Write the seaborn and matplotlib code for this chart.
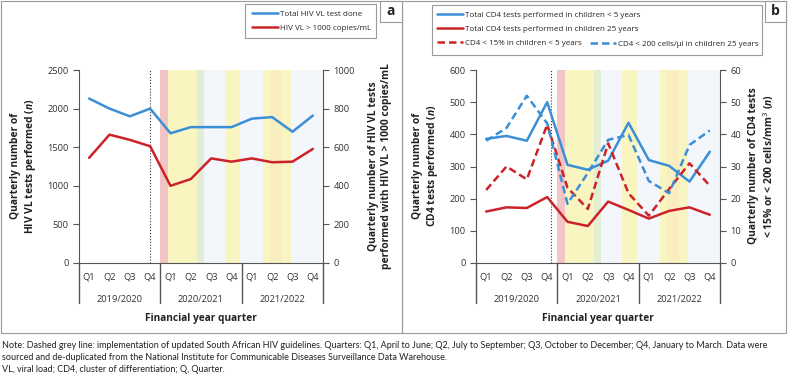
import pandas as pd
import seaborn as sns
import matplotlib.pyplot as plt
import matplotlib.transforms as mtransforms
from matplotlib.patches import Rectangle
from matplotlib.lines import Line2D

# Data
quarters = ['Q1', 'Q2', 'Q3', 'Q4'] * 3
years = ['2019/2020', '2020/2021', '2021/2022']

vl_total = [2130, 2000, 1900, 2000, 1680, 1760, 1760, 1760, 1870, 1890, 1700, 1910]
vl_high = [545, 665, 638, 605, 400, 435, 542, 525, 542, 522, 525, 591]

cd4_u5 = [386, 395, 380, 500, 305, 290, 318, 436, 320, 302, 253, 346]
cd4_25 = [160, 173, 171, 205, 128, 115, 191, 165, 138, 162, 173, 150]
cd4_u5_low = [22.7, 30, 26, 43, 23.4, 16.8, 37.2, 21.7, 14.7, 23, 31, 24]
cd4_25_low = [38, 42, 52, 43.4, 18.4, 28, 38.3, 39.8, 25.5, 21.7, 36.7, 41.2]

# background periods (quarter index units)
periods = [(3.48, 3.86, '#f2c4c4'), (3.86, 5.29, '#f8f5c1'), (5.29, 5.64, '#e3edd3'),
           (5.64, 11.5, '#f3f6fb'), (6.7, 7.42, '#f8f5c1'), (8.54, 9.92, '#f8f5c1'),
           (8.9, 9.5, '#f9eec0')]

BLUE = '#3a8fd6'
RED = '#cc2229'
GREY = '#555555'
W, H = 788, 375

sns.set_style('white')
plt.rcParams['font.family'] = ['Open Sans', 'DejaVu Sans']
plt.rcParams['mathtext.fontset'] = 'custom'
plt.rcParams['mathtext.it'] = 'Open Sans:italic:bold'

df = pd.DataFrame({'idx': range(12), 'vl_total': vl_total, 'vl_high': vl_high,
                   'cd4_u5': cd4_u5, 'cd4_25': cd4_25,
                   'cd4_u5_low': cd4_u5_low, 'cd4_25_low': cd4_25_low})

fig = plt.figure(figsize=(W / 100, H / 100), dpi=100)
TICK = 6.7


def px(x0, y0, w, h):
    return [x0 / W, 1 - (y0 + h) / H, w / W, h / H]


def setup(ax, ax2, ymax, ystep, ymax2, ystep2, guide):
    for a, b, c in periods:
        ax.axvspan(a, b, color=c, lw=0, zorder=0)
    ax.axvline(guide, color='#333333', ls=':', lw=0.8, zorder=1)
    ax.set_xlim(-0.5, 11.5)
    ax.set_ylim(0, ymax)
    ax.set_yticks(range(0, ymax + 1, ystep))
    ax2.set_ylim(0, ymax2)
    ax2.set_yticks(range(0, ymax2 + 1, ystep2))
    ax.set_xticks(range(12))
    ax.set_xticklabels(quarters)
    ax.set_xticks([i + 0.5 for i in range(11)], minor=True)
    ax.tick_params(axis='x', which='major', length=0, pad=7, labelsize=TICK, labelcolor='#333333')
    ax.tick_params(axis='x', which='minor', length=3, color=GREY, width=0.8)
    ax.tick_params(axis='y', length=4, color=GREY, width=0.8, labelsize=TICK, labelcolor='#333333', left=True)
    ax2.tick_params(axis='y', length=4, color=GREY, width=0.8, labelsize=TICK, labelcolor='#333333', right=True)
    for s in ['top', 'right']:
        ax.spines[s].set_visible(False)
    for s in ['top', 'left', 'bottom']:
        ax2.spines[s].set_visible(False)
    ax.spines['left'].set_color(GREY)
    ax.spines['bottom'].set_color(GREY)
    ax2.spines['right'].set_color(GREY)
    ax.set_xlabel('')
    ax.set_ylabel('')
    ax2.set_ylabel('')
    trans = mtransforms.blended_transform_factory(ax.transData, ax.transAxes)
    for xb in [-0.5, 3.5, 7.5, 11.5]:
        ax.plot([xb, xb], [0, -0.207], color=GREY, lw=1, transform=trans, clip_on=False)
    for i, yr in enumerate(years):
        ax.text(4 * i + 1.5, -0.187, yr, transform=trans, ha='center', va='center',
                fontsize=TICK, color='#333333')


# Panel a
ax_a = fig.add_axes(px(79, 70, 244, 193))
ax_a2 = ax_a.twinx()
sns.lineplot(data=df, x='idx', y='vl_total', ax=ax_a, color=BLUE, lw=1.8, zorder=3)
sns.lineplot(data=df, x='idx', y='vl_high', ax=ax_a2, color=RED, lw=1.8)
setup(ax_a, ax_a2, 2500, 500, 1000, 200, 3.0)

# Panel b
ax_b = fig.add_axes(px(476, 70, 244, 193))
ax_b2 = ax_b.twinx()
sns.lineplot(data=df, x='idx', y='cd4_u5', ax=ax_b, color=BLUE, lw=1.8, zorder=3)
sns.lineplot(data=df, x='idx', y='cd4_25', ax=ax_b, color=RED, lw=1.8, zorder=3)
sns.lineplot(data=df, x='idx', y='cd4_u5_low', ax=ax_b2, color=RED, lw=1.8)
sns.lineplot(data=df, x='idx', y='cd4_25_low', ax=ax_b2, color=BLUE, lw=1.8)
for ln in ax_b2.lines:
    ln.set_dashes((3, 1.6))
setup(ax_b, ax_b2, 600, 100, 60, 10, 3.2)

# Axis titles
lab = dict(fontsize=7.4, fontweight='bold', color='#222222', rotation=90,
           ha='center', va='center', multialignment='center', linespacing=1.25)
fig.text(24 / W, 1 - 166 / H, 'Quarterly number of\nHIV VL tests performed ($\\it{n}$)', **lab)
fig.text(380 / W, 1 - 166 / H, 'Quarterly number of HIV VL tests\nperformed with HIV VL > 1000 copies/mL', **lab)
fig.text(426 / W, 1 - 166 / H, 'Quarterly number of\nCD4 tests performed ($\\it{n}$)', **lab)
fig.text(762 / W, 1 - 166 / H, 'Quarterly number of CD4 tests\n< 15% or < 200 cells/mm$^3$ ($\\it{n}$)', **lab)
for xc in [201, 598]:
    fig.text(xc / W, 1 - 318 / H, 'Financial year quarter', fontsize=7.3, fontweight='bold',
             color='#222222', ha='center', va='center')

# Panel frames and letters
for x0, x1 in [(1, 402), (402, 786)]:
    fig.patches.append(Rectangle((x0 / W, 1 - 333 / H), (x1 - x0) / W, 332 / H,
                                 transform=fig.transFigure, fill=False, ec='#9a9a9a', lw=0.8))
for x0, x1, letter in [(380, 402, 'a'), (765, 786, 'b')]:
    fig.patches.append(Rectangle((x0 / W, 1 - 22 / H), (x1 - x0) / W, 21 / H,
                                 transform=fig.transFigure, fill=True, fc='white', ec='#9a9a9a', lw=0.8))
    fig.text((x0 + x1) / 2 / W, 1 - 11 / H, letter, fontsize=10, fontweight='bold',
             ha='center', va='center', color='#222222')

# Legends
for x0, y0, x1, y1 in [(245, 4, 376, 38), (432, 5, 762, 55)]:
    fig.patches.append(Rectangle((x0 / W, 1 - y1 / H), (x1 - x0) / W, (y1 - y0) / H,
                                 transform=fig.transFigure, fill=False, ec='#9a9a9a', lw=0.8))

leg_kw = dict(frameon=False, fontsize=5.75, handlelength=3.25, handletextpad=0.3,
              labelspacing=0.8, borderpad=0, borderaxespad=0, loc='upper left')
h_a = [Line2D([], [], color=BLUE, lw=1.8), Line2D([], [], color=RED, lw=1.8)]
fig.legend(h_a, ['Total HIV VL test done', 'HIV VL > 1000 copies/mL'],
           bbox_to_anchor=(252 / W, 1 - 10 / H), **leg_kw)
h_b = [Line2D([], [], color=BLUE, lw=1.8), Line2D([], [], color=RED, lw=1.8),
       Line2D([], [], color=RED, lw=1.8, dashes=(3, 1.6))]
fig.legend(h_b, ['Total CD4 tests performed in children < 5 years',
                 'Total CD4 tests performed in children 25 years',
                 'CD4 < 15% in children < 5 years'],
           bbox_to_anchor=(437 / W, 1 - 11 / H), **leg_kw)
fig.legend([Line2D([], [], color=BLUE, lw=1.8, dashes=(3, 1.6))],
           ['CD4 < 200 cells/µl in children 25 years'],
           bbox_to_anchor=(590 / W, 1 - 40 / H), **leg_kw)

# Notes
note = dict(fontsize=6.5, color='#222222', ha='left', va='center', family=['Lato', 'DejaVu Sans'])
fig.text(2 / W, 1 - 346 / H, 'Note: Dashed grey line: implementation of updated South African HIV guidelines. '
         'Quarters: Q1, April to June; Q2, July to September; Q3, October to December; Q4, January to March. Data were',
         **note)
fig.text(2 / W, 1 - 357 / H, 'sourced and de-duplicated from the National Institute for Communicable Diseases '
         'Surveillance Data Warehouse.', **note)
fig.text(2 / W, 1 - 369 / H, 'VL, viral load; CD4, cluster of differentiation; Q, Quarter.', **note)

fig.savefig('out.png', dpi=100)
